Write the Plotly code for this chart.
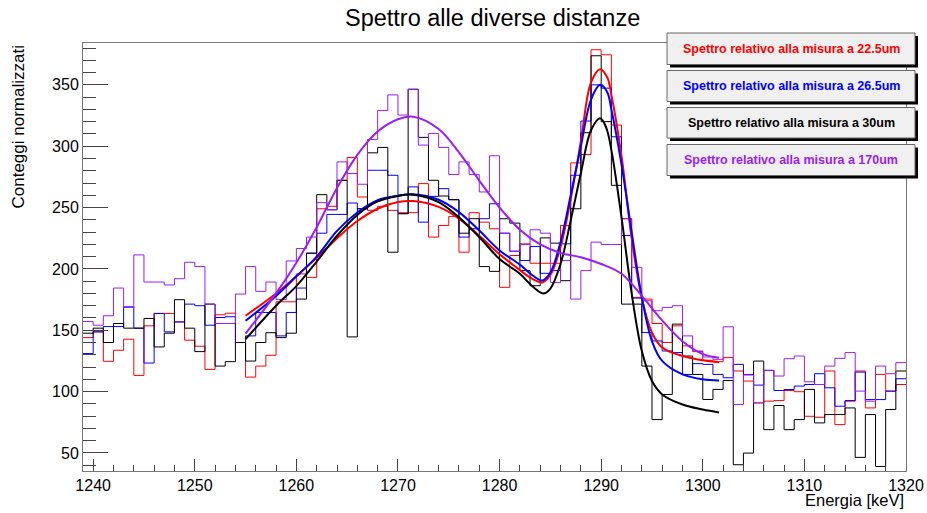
import plotly.graph_objects as go

# ---------------- data ----------------
bin_low = list(range(1239, 1320))  # 81 bins of 1 keV, 1239..1320
bin_width = 1

red_counts = [144.0, 148.7, 124.7, 133.7, 142.7, 113.2, 153.6, 163.7, 163.7, 156.8,
              141.9, 137.0, 118.1, 162.6, 163.9, 140.0, 111.8, 120.8, 129.6, 173.2,
              173.2, 195.9, 193.1, 249.0, 251.0, 272.2, 290.8, 258.6, 247.7, 251.0,
              247.7, 245.8, 245.8, 269.5, 225.9, 235.4, 242.8, 213.6, 245.8, 238.1,
              232.7, 185.0, 210.9, 220.4, 204.6, 204.6, 204.6, 235.4, 286.4, 293.2,
              378.6, 374.5, 317.2, 240.9, 176.8, 175.4, 155.5, 140.0, 153.6, 137.3,
              132.6, 125.5, 124.4, 127.7, 116.8, 108.6, 90.8, 92.2, 92.7, 100.9,
              99.9, 79.9, 79.1, 116.8, 73.1, 92.2, 116.8, 86.7, 114.0, 100.4,
              105.8]

blue_counts = [131.0, 148.7, 153.0, 153.0, 169.1, 151.7, 123.3, 163.7, 148.7, 156.8,
               171.3, 170.0, 154.1, 160.4, 161.0, 140.0, 145.4, 164.5, 164.5, 145.4,
               164.5, 184.4, 212.8, 229.1, 244.4, 244.4, 253.7, 249.0, 280.4, 280.4,
               276.3, 245.0, 266.8, 238.1, 259.1, 265.4, 256.4, 225.9, 232.7, 240.9,
               253.1, 229.1, 214.4, 206.8, 218.2, 196.4, 198.6, 220.4, 276.3, 320.5,
               350.0, 347.3, 307.7, 227.2, 176.2, 148.1, 141.3, 133.1, 131.8, 114.0,
               122.8, 122.2, 114.0, 111.3, 122.2, 114.0, 105.3, 117.3, 100.9, 101.7,
               104.5, 105.8, 114.6, 103.1, 88.1, 92.7, 115.9, 93.5, 93.5, 100.4,
               110.5]

black_counts = [147.6, 151.7, 140.0, 155.5, 151.7, 151.7, 159.6, 136.4, 147.6, 174.9,
                151.7, 132.6, 171.3, 120.8, 124.4, 140.0, 124.9, 140.0, 148.0, 144.0,
                147.6, 175.4, 212.8, 260.5, 248.2, 272.2, 144.6, 249.0, 294.6, 299.0,
                213.6, 245.0, 346.4, 307.2, 272.2, 259.4, 256.4, 229.1, 240.9, 201.9,
                198.0, 240.9, 237.3, 198.6, 186.3, 225.3, 221.0, 190.4, 249.0, 311.0,
                373.7, 320.0, 268.1, 171.3, 171.3, 120.8, 77.2, 97.7, 155.0, 129.0,
                114.0, 93.6, 101.8, 109.1, 40.4, 49.9, 124.9, 69.0, 88.7, 69.0,
                77.2, 101.8, 74.5, 81.3, 81.3, 86.7, 46.4, 81.3, 39.0, 85.4,
                116.8]

purple_counts = [157.1, 154.1, 161.8, 184.4, 168.6, 211.4, 189.3, 189.3, 186.9, 192.0,
                 205.4, 201.9, 171.3, 155.5, 155.5, 179.5, 201.9, 181.7, 189.3, 175.0,
                 206.5, 216.6, 225.9, 254.0, 248.2, 287.2, 277.7, 269.0, 305.5, 329.0,
                 341.8, 325.4, 346.4, 300.9, 310.4, 299.0, 276.9, 287.2, 276.9, 262.7,
                 292.2, 229.1, 214.4, 219.9, 231.9, 229.1, 189.0, 206.8, 175.4, 198.6,
                 221.8, 219.9, 219.9, 240.9, 201.3, 174.0, 165.9, 168.6, 170.0, 145.4,
                 133.1, 128.2, 126.3, 152.8, 89.5, 113.5, 90.8, 117.3, 112.7, 126.8,
                 129.0, 108.0, 105.8, 120.8, 127.1, 131.8, 100.4, 92.2, 120.8, 114.6,
                 123.6]

# fitted curves at sample energies
red_fit_x = [1255, 1258, 1260, 1262, 1264, 1266, 1268, 1270, 1271.5, 1274, 1276, 1278, 1280,
             1282, 1283.2, 1284.2, 1285, 1286, 1287, 1288, 1289, 1289.9, 1290.6, 1291, 1292,
             1293, 1294, 1295, 1296, 1298, 1300, 1301.6]
red_fit_y = [161.8, 180.0, 194.0, 209.0, 225.0, 239.0, 249.0, 254.5, 255.3, 250.5, 241.0, 227.0, 212.0,
             199.0, 192.0, 189.0, 195.0, 218.0, 257.0, 304.0, 352.0, 362.8, 356.0, 342.0, 292.0,
             225.0, 176.0, 148.0, 136.0, 129.0, 125.5, 124.0]

blue_fit_x = [1255, 1258, 1260, 1262, 1264, 1266, 1268, 1270, 1271.5, 1274, 1276, 1278, 1280,
              1282, 1283.2, 1284.2, 1285, 1286, 1287, 1288, 1289, 1289.9, 1290.6, 1291, 1292,
              1293, 1294, 1295, 1296, 1298, 1300, 1301.6]
blue_fit_y = [157.7, 178.0, 194.0, 210.0, 231.0, 246.0, 256.0, 259.7, 260.8, 256.4, 246.3, 231.3, 215.0,
              203.5, 195.0, 190.5, 197.0, 222.0, 260.0, 300.0, 338.0, 350.0, 344.0, 330.0, 285.0,
              230.0, 177.0, 141.0, 125.0, 114.0, 110.0, 109.0]

black_fit_x = [1255, 1258, 1260, 1262, 1264, 1266, 1268, 1270, 1271.5, 1274, 1276, 1278, 1280,
               1282, 1283.2, 1284.3, 1285, 1286, 1287, 1288, 1289, 1289.9, 1290.5, 1291, 1292,
               1293, 1294, 1295, 1296, 1298, 1300, 1301.6]
black_fit_y = [142.7, 170.0, 186.0, 206.0, 227.0, 244.0, 255.0, 259.5, 260.5, 254.5, 242.0, 226.0, 208.0,
               196.0, 186.0, 180.0, 184.0, 204.0, 239.5, 278.0, 313.0, 322.7, 315.0, 297.0, 242.0,
               180.0, 133.0, 108.6, 97.7, 89.5, 85.4, 83.0]

purple_fit_x = [1255, 1258, 1260, 1262, 1264, 1266, 1268, 1270, 1271.5, 1274, 1276, 1278, 1280,
                1282, 1284, 1286, 1288, 1290, 1292, 1294, 1296, 1298, 1300, 1301.6]
purple_fit_y = [147.3, 180.0, 205.0, 234.0, 266.0, 293.0, 312.0, 322.0, 324.0, 314.0, 295.0, 272.0, 250.0,
                232.0, 220.0, 213.0, 209.5, 204.0, 196.0, 178.0, 158.0, 141.0, 130.5, 127.5]

legend_labels = ["Spettro relativo alla misura a 22.5um",
                 "Spettro relativo alla misura a 26.5um",
                 "Spettro relativo alla misura a 30um",
                 "Spettro relativo alla misura a 170um"]

# ---------------- style ----------------
RED, BLUE, BLACK, PURPLE = "#ff0000", "#0000ff", "#000000", "#9a1ef5"
FONT = "Liberation Sans, Arial, Helvetica, sans-serif"
W, H = 927, 513
ML, MR, MT, MB = 83, 21, 43, 42
PW, PH = W - ML - MR, H - MT - MB


def px(xp):
    return (xp - ML) / PW


def py(yp):
    return (H - MB - yp) / PH


fig = go.Figure()

series = [(red_counts, RED), (blue_counts, BLUE), (black_counts, BLACK), (purple_counts, PURPLE)]
for counts, col in series:
    xs = bin_low + [bin_low[-1] + bin_width]
    ys = list(counts) + [counts[-1]]
    fig.add_trace(go.Scatter(x=xs, y=ys, mode="lines",
                             line=dict(color=col, width=1, shape="hv"),
                             showlegend=False, hoverinfo="skip"))

fits = [(red_fit_x, red_fit_y, RED), (blue_fit_x, blue_fit_y, BLUE),
        (black_fit_x, black_fit_y, BLACK), (purple_fit_x, purple_fit_y, PURPLE)]
for fx, fy, col in fits:
    fig.add_trace(go.Scatter(x=fx, y=fy, mode="lines",
                             line=dict(color=col, width=2, shape="spline", smoothing=1.0),
                             showlegend=False, hoverinfo="skip"))

# legend boxes (ROOT-like panes with shadow)
shapes = []
annotations = []
box_x0, box_x1 = 667, 915
box_rows = [(33, 64.5), (70.5, 101.5), (107.5, 138), (144.5, 175.5)]
text_cols = [RED, BLUE, BLACK, PURPLE]
for (y0, y1), lab, col in zip(box_rows, legend_labels, text_cols):
    shapes.append(dict(type="rect", xref="paper", yref="paper",
                       x0=px(box_x0 + 3), x1=px(box_x1 + 3), y0=py(y1 + 3), y1=py(y0 + 3),
                       fillcolor="black", line=dict(width=0), layer="above"))
    shapes.append(dict(type="rect", xref="paper", yref="paper",
                       x0=px(box_x0), x1=px(box_x1), y0=py(y1), y1=py(y0),
                       fillcolor="#f0f0f0", line=dict(color="#666666", width=1), layer="above"))
    annotations.append(dict(text="<b>%s</b>" % lab, xref="paper", yref="paper",
                            x=px((box_x0 + box_x1) / 2), y=py((y0 + y1) / 2),
                            xanchor="center", yanchor="middle", showarrow=False,
                            font=dict(family=FONT, size=12.5, color=col)))

annotations.append(dict(text="Spettro alle diverse distanze", xref="paper", yref="paper",
                        x=px(492), y=py(18), xanchor="center", yanchor="middle", showarrow=False,
                        font=dict(family=FONT, size=23.5, color="black")))
annotations.append(dict(text="Conteggi normalizzati", xref="paper", yref="paper",
                        x=px(18), y=py(44), xanchor="center", yanchor="top", textangle=-90,
                        showarrow=False, font=dict(family=FONT, size=17, color="black")))
annotations.append(dict(text="Energia [keV]", xref="paper", yref="paper",
                        x=px(906), y=py(500), xanchor="right", yanchor="middle",
                        showarrow=False, font=dict(family=FONT, size=16.5, color="black")))

fig.update_layout(
    width=W, height=H, autosize=False,
    margin=dict(l=ML, r=MR, t=MT, b=MB, pad=0, autoexpand=False),
    paper_bgcolor="white", plot_bgcolor="white",
    shapes=shapes, annotations=annotations,
    showlegend=False,
    font=dict(family=FONT, size=16, color="black"),
)
fig.update_xaxes(range=[1239, 1320], showgrid=False, zeroline=False, automargin=False,
                 showline=True, mirror=True, linecolor="#777777", linewidth=1,
                 ticks="inside", ticklen=12, tickcolor="#444444", tickwidth=1,
                 dtick=10, tick0=0,
                 minor=dict(dtick=2, ticks="inside", ticklen=6, tickcolor="#444444", tickwidth=1),
                 tickfont=dict(family=FONT, size=16, color="black"))
fig.update_yaxes(range=[35.3, 384.1], showgrid=False, zeroline=False, automargin=False,
                 showline=True, mirror=True, linecolor="#777777", linewidth=1,
                 ticks="inside", ticklen=25, tickcolor="#444444", tickwidth=1,
                 dtick=50, tick0=0,
                 minor=dict(dtick=10, ticks="inside", ticklen=13, tickcolor="#444444", tickwidth=1),
                 tickfont=dict(family=FONT, size=16, color="black"))

fig.write_html("out.html", config={"responsive": False},
               post_script="document.documentElement.style.overflow='hidden';"
                           "document.body.style.overflow='hidden';"
                           "document.body.style.margin='0';")
